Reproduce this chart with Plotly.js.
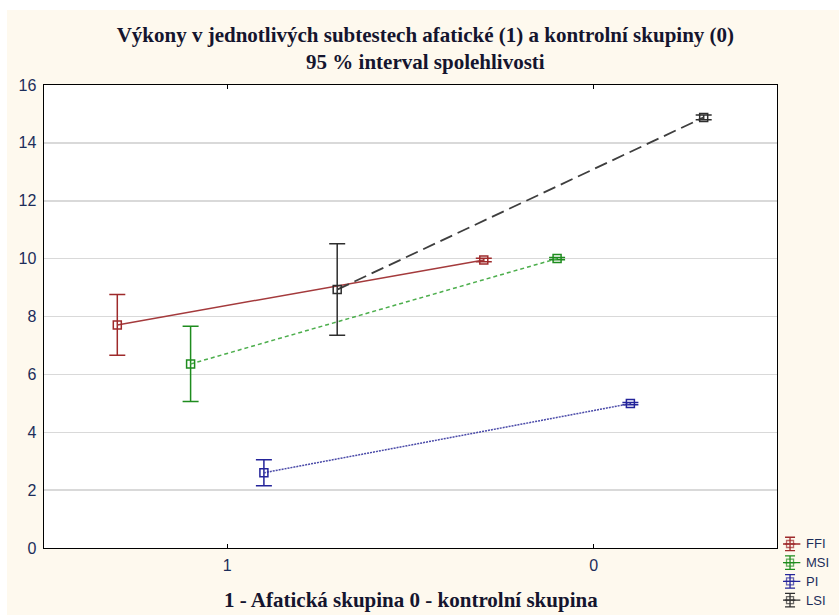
<!DOCTYPE html>
<html>
<head>
<meta charset="utf-8">
<script src="https://cdn.plot.ly/plotly-3.0.1.min.js"></script>
<style>
  html, body { margin: 0; padding: 0; background: #ffffff; }
  #bg { position: absolute; left: 7px; top: 10px; width: 832px; height: 605px; background: #fef9ee; }
  #chart { position: absolute; left: 0; top: 0; width: 839px; height: 615px; }
</style>
</head>
<body>
<div id="bg"></div>
<div id="chart"></div>
<script>
// Groups on the x axis (1 = aphasic group, 0 = control group)
const categories = ["1", "0"];
const seriesNames = ["FFI", "MSI", "PI", "LSI"];
// Means per group [group 1, group 0]
const FFI = [7.71, 9.95];
const MSI = [6.36, 10.0];
const PI  = [2.60, 4.99];
const LSI = [8.93, 14.88];
// 95% CI half-widths per group [group 1, group 0]
const FFI_ci = [1.05, 0.06];
const MSI_ci = [1.30, 0.04];
const PI_ci  = [0.45, 0.04];
const LSI_ci = [1.58, 0.08];

const yTicks = [0, 2, 4, 6, 8, 10, 12, 14, 16];

const means = [FFI, MSI, PI, LSI];
const cis = [FFI_ci, MSI_ci, PI_ci, LSI_ci];
const colors = ["#9e2a2b", "#1e8c1e", "#24249a", "#2e2e2e"];
const lineColors = ["#a43a3c", "#4cae4c", "#4a4aa8", "#3e3e3e"];
const dashes = ["solid", "4px,3px", "2px,1px", "13px,6px"];
const widths = [1.5, 1.5, 1.5, 1.8];
const offsets = [-0.3, -0.1, 0.1, 0.3];

const traces = seriesNames.map((name, i) => ({
  type: "scatter",
  mode: "lines+markers",
  name: name,
  showlegend: false,
  x: categories.map((c, j) => j + offsets[i]),
  y: means[i],
  line: { color: lineColors[i], width: widths[i], dash: dashes[i] },
  marker: { symbol: "square-open", size: 8, color: colors[i], line: { width: 1.5, color: colors[i] } },
  error_y: { type: "data", array: cis[i], visible: true, color: colors[i], thickness: 1.5, width: 8 },
  cliponaxis: false
}));

// Custom legend drawn on a small helper axis pair (symbol = marker + CI bar)
seriesNames.forEach((name, i) => {
  traces.push({
    type: "scatter",
    mode: "lines+markers",
    xaxis: "x2", yaxis: "y2",
    showlegend: false,
    hoverinfo: "skip",
    x: [0.03, 0.125, 0.22],
    y: [i, i, i],
    line: { color: colors[i], width: 1.2 },
    marker: { symbol: "square-open", size: [0, 7, 0], color: colors[i], line: { width: 1.3, color: colors[i] } },
    error_y: { type: "data", array: [0, 0.36, 0], visible: true, color: colors[i], thickness: 1.3, width: 5 },
    cliponaxis: false
  });
});

const legendAnnotations = seriesNames.map((name, i) => ({
  text: name, xref: "x2", yref: "y2", x: 0.37, y: i,
  xanchor: "left", yanchor: "middle", showarrow: false,
  font: { family: "Liberation Sans, Arial, sans-serif", size: 13, color: "#1c2d5a" }
}));

const layout = {
  width: 839, height: 615,
  paper_bgcolor: "rgba(0,0,0,0)",
  plot_bgcolor: "rgba(0,0,0,0)",
  margin: { l: 44, r: 0, t: 85, b: 5, pad: 0, autoexpand: false },
  showlegend: false,
  title: {
    text: "<b>Výkony v jednotlivých subtestech afatické (1) a kontrolní skupiny (0)</b><br><b>95 % interval spolehlivosti</b>",
    font: { family: "Liberation Serif, Times New Roman, serif", size: 21, color: "#15152e" },
    x: 0.507, xref: "container", xanchor: "center",
    y: 0.9317, yref: "container", yanchor: "middle"
  },
  xaxis: {
    domain: [0, 0.922],
    range: [-0.5, 1.5],
    tickmode: "array",
    tickvals: categories.map((c, j) => j),
    ticktext: categories,
    ticks: "inside", ticklen: 4, tickcolor: "#000", tickwidth: 1,
    ticklabelstandoff: 2,
    showgrid: false, zeroline: false,
    showline: true, linecolor: "#000", linewidth: 1.5, mirror: "ticks",
    tickfont: { family: "Liberation Sans, Arial, sans-serif", size: 16, color: "#1c2d5a" },
    automargin: false
  },
  yaxis: {
    domain: [0.1181, 1],
    range: [0, 16],
    tickmode: "array",
    tickvals: yTicks,
    ticks: "", showgrid: true, gridcolor: "#d9d9d9", gridwidth: 1.5,
    ticklabelstandoff: 3,
    zeroline: false,
    showline: true, linecolor: "#000", linewidth: 1.5, mirror: true,
    tickfont: { family: "Liberation Sans, Arial, sans-serif", size: 16, color: "#1c2d5a" },
    automargin: false
  },
  xaxis2: {
    domain: [0.9296, 1], range: [0, 1], anchor: "y2",
    visible: false, showgrid: false, zeroline: false, fixedrange: true
  },
  yaxis2: {
    domain: [0, 0.1467], range: [3.53, -0.588], anchor: "x2",
    visible: false, showgrid: false, zeroline: false, fixedrange: true
  },
  shapes: [{
    type: "rect", xref: "x domain", yref: "y domain", x0: 0, x1: 1, y0: 0, y1: 1,
    fillcolor: "#ffffff", line: { width: 0 }, layer: "below"
  }],
  annotations: legendAnnotations.concat([{
    text: "<b>1 - Afatická skupina 0 - kontrolní skupina</b>",
    xref: "paper", yref: "paper", x: 0.4616, y: 0.019,
    xanchor: "center", yanchor: "middle", showarrow: false,
    font: { family: "Liberation Serif, Times New Roman, serif", size: 21, color: "#15152e" }
  }])
};

Plotly.newPlot("chart", traces, layout, { displayModeBar: false, staticPlot: true });
</script>
</body>
</html>
